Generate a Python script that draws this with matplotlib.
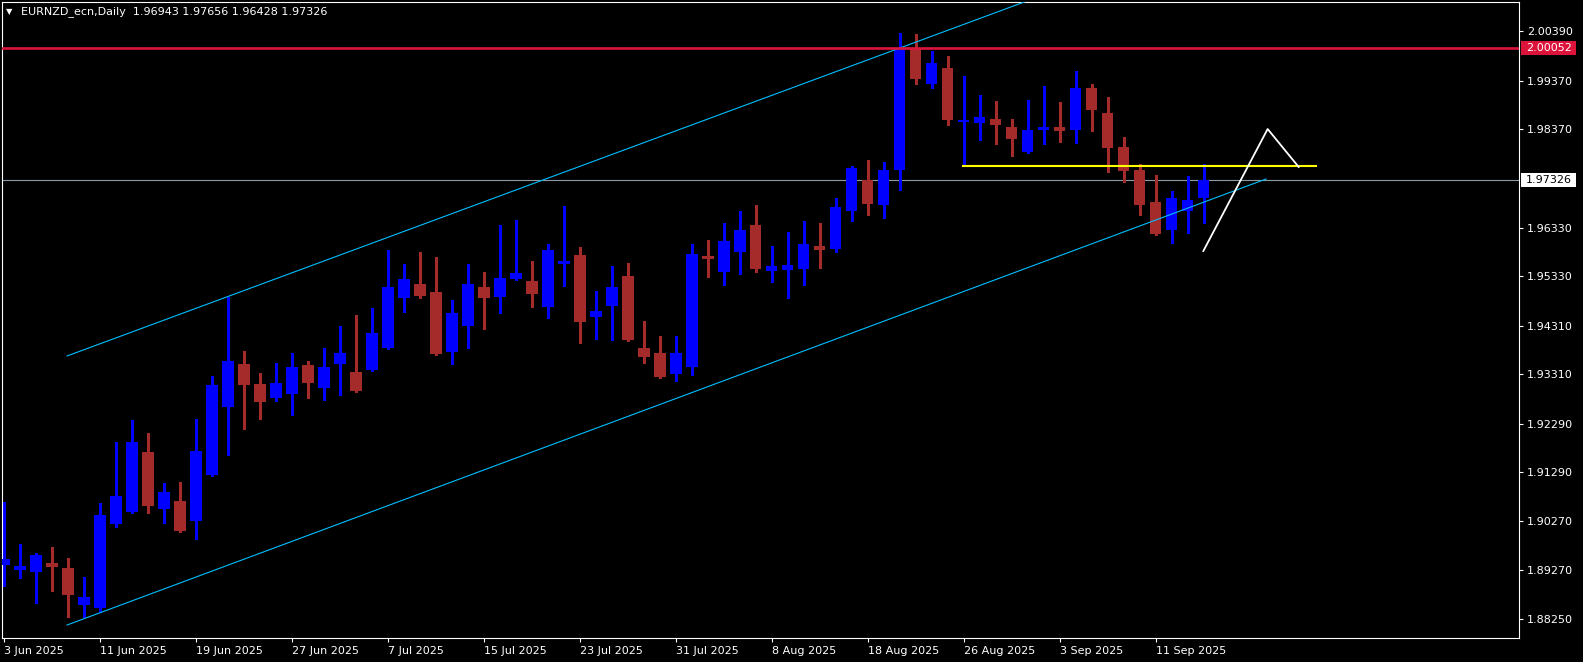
import numpy as np
import pandas as pd
import matplotlib
matplotlib.use("Agg")
import matplotlib.pyplot as plt
from matplotlib.patches import Rectangle
from matplotlib.transforms import blended_transform_factory

# EURNZD daily candles, 3 Jun 2025 .. 16 Sep 2025
opens = [1.8937, 1.8927, 1.8923, 1.8941, 1.8931, 1.8854, 1.8848, 1.9022, 1.9046, 1.9170,
         1.9053, 1.9069, 1.9028, 1.9123, 1.9263, 1.9352, 1.9311, 1.9282, 1.9290, 1.9350,
         1.9302, 1.9352, 1.9335, 1.9340, 1.9385, 1.9488, 1.9517, 1.9501, 1.9377, 1.9430,
         1.9511, 1.9490, 1.9527, 1.9523, 1.9470, 1.9558, 1.9577, 1.9449, 1.9472, 1.9534,
         1.9385, 1.9375, 1.9331, 1.9346, 1.9575, 1.9542, 1.9583, 1.9639, 1.9544, 1.9546,
         1.9548, 1.9596, 1.9589, 1.9668, 1.9732, 1.9680, 1.9752, 2.0002, 1.9930, 1.9963,
         1.9852, 1.9849, 1.9858, 1.9841, 1.9790, 1.9835, 1.9841, 1.9835, 1.9922, 1.9870,
         1.9800, 1.9752, 1.9686, 1.9629, 1.9668, 1.96943]
highs = [1.9067, 1.8980, 1.8962, 1.8974, 1.8951, 1.8912, 1.9065, 1.9191, 1.9236, 1.9210,
         1.9106, 1.9108, 1.9238, 1.9327, 1.9490, 1.9379, 1.9333, 1.9354, 1.9375, 1.9358,
         1.9385, 1.9430, 1.9453, 1.9468, 1.9587, 1.9558, 1.9583, 1.9573, 1.9484, 1.9558,
         1.9542, 1.9639, 1.9649, 1.9565, 1.9600, 1.9678, 1.9593, 1.9503, 1.9554, 1.9560,
         1.9441, 1.9410, 1.9410, 1.9600, 1.9608, 1.9643, 1.9668, 1.9680, 1.9596, 1.9624,
         1.9647, 1.9643, 1.9695, 1.9761, 1.9773, 1.9769, 2.0035, 2.0033, 1.9998, 1.9988,
         1.9947, 1.9907, 1.9895, 1.9858, 1.9897, 1.9926, 1.9893, 1.9957, 1.9930, 1.9903,
         1.9821, 1.9765, 1.9742, 1.9709, 1.9740, 1.97656]
lows = [1.8894, 1.8910, 1.8859, 1.8883, 1.8830, 1.8830, 1.8840, 1.9015, 1.9045, 1.9044,
        1.9024, 1.9006, 1.8991, 1.9121, 1.9164, 1.9218, 1.9238, 1.9276, 1.9247, 1.9282,
        1.9278, 1.9288, 1.9295, 1.9338, 1.9383, 1.9459, 1.9488, 1.9371, 1.9352, 1.9385,
        1.9424, 1.9457, 1.9525, 1.9470, 1.9447, 1.9513, 1.9395, 1.9404, 1.9402, 1.9400,
        1.9354, 1.9323, 1.9317, 1.9329, 1.9532, 1.9515, 1.9538, 1.9542, 1.9521, 1.9488,
        1.9515, 1.9550, 1.9583, 1.9647, 1.9660, 1.9653, 1.9711, 1.9930, 1.9922, 1.9845,
        1.9761, 1.9814, 1.9806, 1.9781, 1.9788, 1.9806, 1.9810, 1.9808, 1.9833, 1.9748,
        1.9728, 1.9660, 1.9618, 1.9602, 1.9622, 1.96428]
closes = [1.8949, 1.8935, 1.8958, 1.8933, 1.8875, 1.8871, 1.9040, 1.9079, 1.9191, 1.9059,
          1.9088, 1.9007, 1.9172, 1.9309, 1.9358, 1.9309, 1.9274, 1.9313, 1.9346, 1.9313,
          1.9346, 1.9375, 1.9296, 1.9416, 1.9511, 1.9527, 1.9492, 1.9373, 1.9457, 1.9517,
          1.9488, 1.9530, 1.9540, 1.9496, 1.9587, 1.9565, 1.9439, 1.9461, 1.9511, 1.9402,
          1.9366, 1.9325, 1.9375, 1.9579, 1.9569, 1.9606, 1.9629, 1.9548, 1.9554, 1.9556,
          1.9600, 1.9587, 1.9676, 1.9757, 1.9682, 1.9752, 2.0002, 1.9940, 1.9973, 1.9856,
          1.9856, 1.9862, 1.9845, 1.9816, 1.9835, 1.9841, 1.9833, 1.9922, 1.9876, 1.9798,
          1.9750, 1.9680, 1.9620, 1.9695, 1.9691, 1.97326]

xtick_pos = [0, 6, 12, 18, 24, 30, 36, 42, 48, 54, 60, 66, 72]
xtick_labels = ['3 Jun 2025', '11 Jun 2025', '19 Jun 2025', '27 Jun 2025', '7 Jul 2025',
                '15 Jul 2025', '23 Jul 2025', '31 Jul 2025', '8 Aug 2025', '18 Aug 2025',
                '26 Aug 2025', '3 Sep 2025', '11 Sep 2025']
ytick_vals = [2.00390, 1.99370, 1.98370, 1.96330, 1.95330, 1.94310, 1.93310,
              1.92290, 1.91290, 1.90270, 1.89270, 1.88250]

# drawn objects
resistance = 2.00052
last_price = 1.97326
yellow_x = [59.94, 82.0]
yellow_y = [1.97597, 1.97597]
upper_x = [3.94, 68.0]
upper_y = [1.93685, 2.0151]
lower_x = [3.94, 78.88]
lower_y = [1.88131, 1.97339]
zig_x = [74.96, 78.98, 80.92]
zig_y = [1.95852, 1.98371, 1.97587]

W, H = 1583, 662
fig = plt.figure(figsize=(W / 100, H / 100), dpi=100, facecolor='black')
ax = fig.add_axes([2 / W, 24 / H, 1517 / W, 636 / H])
ax.set_facecolor('black')

o = np.array(opens); c = np.array(closes)
x = np.arange(len(o))
up = c >= o
cols = np.where(up, '#0000FF', '#A52A2A')

ax.vlines(x, lows, highs, colors=cols, linewidth=0.8, zorder=2, antialiased=False)
body = np.abs(c - o)
body = np.maximum(body, 0.00015)
ax.bar(x, body, bottom=np.minimum(o, c), width=0.69, color=cols, linewidth=0,
       zorder=3, antialiased=False)

# lines
ax.axhline(last_price, color='#8C99A6', linewidth=0.8, zorder=1)
ax.axhline(resistance, color='#DC143C', linewidth=1.9, zorder=5)
ax.plot(upper_x, upper_y, color='#00BFFF', linewidth=0.8, zorder=4)
ax.plot(lower_x, lower_y, color='#00BFFF', linewidth=0.8, zorder=4)
ax.plot(yellow_x, yellow_y, color='#FFFF00', linewidth=1.5, zorder=5)
ax.plot(zig_x, zig_y, color='white', linewidth=1.3, zorder=5)

ax.set_xlim(-0.125, 94.69)
ax.set_ylim(1.87863, 2.00993)

for s in ax.spines.values():
    s.set_color('white')
    s.set_linewidth(0.8)

ax.yaxis.tick_right()
ax.set_yticks(ytick_vals)
ax.set_yticklabels([f"{v:.5f}" for v in ytick_vals])
ax.set_xticks(xtick_pos)
ax.set_xticklabels(xtick_labels)
for lbl in ax.get_xticklabels():
    lbl.set_ha('left')
ax.tick_params(colors='white', length=3, width=0.8, labelsize=8, pad=3)
ax.tick_params(axis='y', pad=2.5)

# price boxes on the right axis
tr = blended_transform_factory(ax.transAxes, ax.transData)
box_h = 14 / 4844
for price, face, txt_col in [(resistance, '#DC143C', 'white'), (last_price, 'white', 'black')]:
    ax.add_patch(Rectangle((1 + 2 / 1517, price - box_h / 2), 55 / 1517, box_h,
                           transform=tr, facecolor=face, edgecolor='none',
                           clip_on=False, zorder=6))
    ax.text(1 + 7 / 1517, price, f"{price:.5f}", transform=tr, ha='left', va='center',
            fontsize=8, color=txt_col, clip_on=False, zorder=7)

# header
fig.text(6 / W, 1 - 12 / H, '\u25BC', color='white', fontsize=6, va='center')
fig.text(21 / W, 1 - 12 / H, 'EURNZD_ecn,Daily  1.96943 1.97656 1.96428 1.97326',
         color='white', fontsize=8, va='center')

fig.savefig('out.png', dpi=100, facecolor='black')
